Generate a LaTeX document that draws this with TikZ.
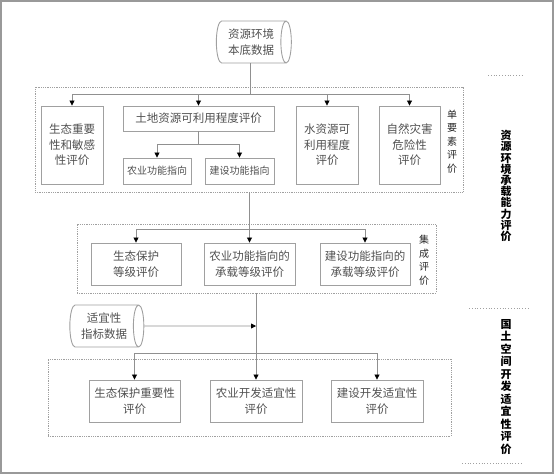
\documentclass[tikz,border=0pt]{standalone}
\usepackage{fontspec}
\setmainfont{Noto Sans CJK SC}
\newfontfamily\cjk{Noto Sans CJK SC}
\usetikzlibrary{shapes.geometric,arrows.meta}
\definecolor{boxline}{HTML}{A0A0A0}
\definecolor{txt}{HTML}{505050}
\definecolor{conn}{HTML}{909090}
\tikzset{
  box/.style={draw=boxline, line width=0.9pt, inner sep=0pt, align=center, text=txt,
    font=\fontsize{11.5}{15.5}\selectfont},
  smallbox/.style={box, font=\fontsize{10}{12}\selectfont},
  group/.style={draw=boxline, densely dotted, line width=0.8pt, inner sep=0pt},
  dbcyl/.style={cylinder, shape border rotate=0, aspect=0.4, draw=boxline, line width=0.9pt,
    inner sep=0pt, align=center, text=txt, font=\fontsize{11.5}{15.5}\selectfont},
  conline/.style={draw=conn, line width=0.8pt},
  arr/.style={conline, -{Triangle[width=5pt,length=5pt,fill=black,color=black]}},
  vlab/.style={align=center, inner sep=0pt, text=black!85, font=\fontsize{10}{13.5}\selectfont},
  biglab/.style={align=center, inner sep=0pt, text=black, font=\bfseries\fontsize{11}{11.2}\selectfont},
  sep/.style={draw=boxline, dotted, line width=0.8pt}
}
\begin{document}
\begin{tikzpicture}[x=1pt,y=-1pt]
\useasboundingbox (0,0) rectangle (554,474);
\draw[draw=black!40, line width=1.5pt] (1,1) rectangle (553,473);

% group boxes
\node[group, minimum width=428, minimum height=105] (g1) at (249,139.5) {};
\node[group, minimum width=359, minimum height=69] (g2) at (256.5,258.5) {};
\node[group, minimum width=403, minimum height=77] (g3) at (249.5,397.5) {};

% data cylinders
\node[dbcyl, minimum height=75, minimum width=42] (cyl1) at (251,42) {资源环境\\本底数据};
\node[dbcyl, minimum height=74, minimum width=42] (cyl2) at (104,326) {适宜性\\指标数据};

% single-element boxes
\node[box, minimum width=62, minimum height=78] (s1) at (72,145) {生态重要\\性和敏感\\性评价};
\node[box, minimum width=151, minimum height=25] (land) at (198.5,118.5) {土地资源可利用程度评价};
\node[smallbox, minimum width=68, minimum height=26] (agri) at (157,171) {农业功能指向};
\node[smallbox, minimum width=69, minimum height=26] (cons) at (239.5,171) {建设功能指向};
\node[box, minimum width=62, minimum height=78] (water) at (327,145) {水资源可\\利用程度\\评价};
\node[box, minimum width=61, minimum height=78] (hazard) at (409.5,145) {自然灾害\\危险性\\评价};

% integrated boxes
\node[box, minimum width=90, minimum height=42] (eco2) at (136,264) {生态保护\\等级评价};
\node[box, minimum width=91, minimum height=42] (agri2) at (249.5,264) {农业功能指向的\\承载等级评价};
\node[box, minimum width=90, minimum height=42] (cons2) at (365,264) {建设功能指向的\\承载等级评价};

% suitability boxes
\node[box, minimum width=91, minimum height=42] (eco3) at (134.5,401) {生态保护重要性\\评价};
\node[box, minimum width=92, minimum height=42] (agri3) at (256,401) {农业开发适宜性\\评价};
\node[box, minimum width=92, minimum height=42] (cons3) at (377,401) {建设开发适宜性\\评价};

% group labels
\node[vlab] (lab1) at (452,141.5) {单\\要\\素\\评\\价};
\node[vlab] (lab2) at (424,260) {集\\成\\评\\价};
\node[biglab] (big1) at (506,186) {资\\源\\环\\境\\承\\载\\能\\力\\评\\价};
\node[biglab, font=\bfseries\fontsize{11}{12.5}\selectfont] (big2) at (506,387) {国\\土\\空\\间\\开\\发\\适\\宜\\性\\评\\价};

% separators
\coordinate (d1a) at (488,75); \coordinate (d1b) at (523,75);
\coordinate (d2a) at (469,308); \coordinate (d2b) at (528,308);
\coordinate (d3a) at (462,463); \coordinate (d3b) at (521,463);
\draw[sep] (d1a) -- (d1b);
\draw[sep] (d2a) -- (d2b);
\draw[sep] (d3a) -- (d3b);

% connectors level 1
\coordinate (bar1) at (250,94);
\draw[conline] (cyl1.south -| bar1) -- (bar1);
\draw[conline] (s1.north |- bar1) -- (hazard.north |- bar1);
\draw[arr] (s1.north |- bar1) -- (s1.north);
\draw[arr] (land.north |- bar1) -- (land.north);
\draw[arr] (water.north |- bar1) -- (water.north);
\draw[arr] (hazard.north |- bar1) -- (hazard.north);

\coordinate (sub) at (198.5,144);
\draw[conline] (land.south) -- (sub);
\draw[conline] (agri.north |- sub) -- (cons.north |- sub);
\draw[arr] (agri.north |- sub) -- (agri.north);
\draw[arr] (cons.north |- sub) -- (cons.north);

% connectors level 2
\coordinate (bar2) at (249.5,229);
\draw[conline] (g1.south -| bar2) -- (bar2);
\draw[conline] (eco2.north |- bar2) -- (cons2.north |- bar2);
\draw[arr] (eco2.north |- bar2) -- (eco2.north);
\draw[arr] (bar2) -- (agri2.north);
\draw[arr] (cons2.north |- bar2) -- (cons2.north);

% connectors level 3
\coordinate (bar3) at (256,353);
\coordinate (mid3) at (256,326);
\draw[conline] (g2.south -| bar3) -- (bar3);
\draw[arr] (cyl2.east) -- (mid3);
\draw[conline] (eco3.north |- bar3) -- (cons3.north |- bar3);
\draw[arr] (eco3.north |- bar3) -- (eco3.north);
\draw[arr] (bar3) -- (agri3.north);
\draw[arr] (cons3.north |- bar3) -- (cons3.north);
\end{tikzpicture}
\end{document}
